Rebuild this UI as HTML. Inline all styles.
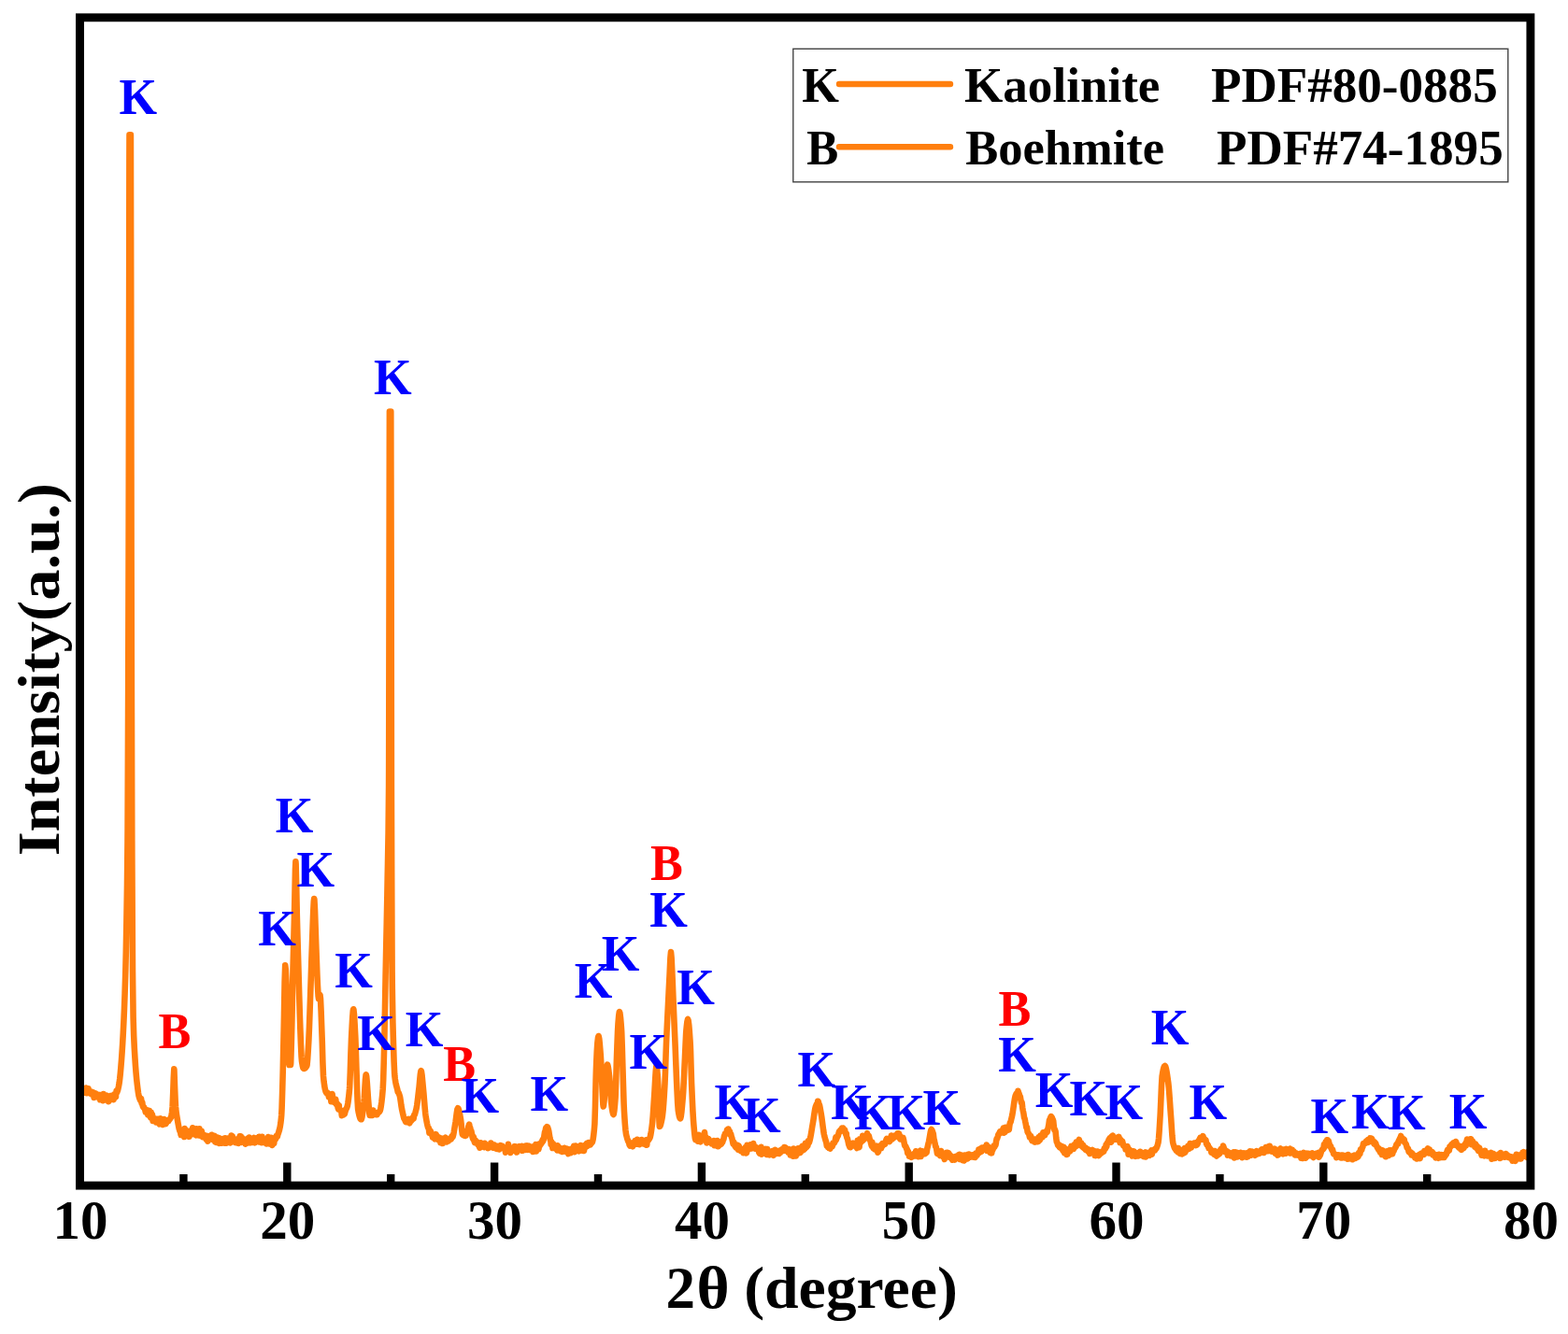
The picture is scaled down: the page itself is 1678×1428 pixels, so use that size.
<!DOCTYPE html>
<html lang="en"><head><meta charset="utf-8"><title>XRD pattern</title>
<style>
html,body{margin:0;padding:0;background:#fff;}
body{width:1678px;height:1428px;overflow:hidden;}
svg{display:block;}
text{font-family:"Liberation Serif","Times New Roman",serif;font-weight:bold;}
.pk{font-size:54.4px;}
.tk{font-size:59px;text-anchor:middle;fill:#000;}
.lg{font-size:53.1px;fill:#000;}
.ax{font-size:63px;fill:#000;}
</style></head><body>
<svg width="1678" height="1428" viewBox="0 0 1678 1428">
<rect x="0" y="0" width="1678" height="1428" fill="#fff"/>
<path d="M85.0 1166.3 L85.6 1167.7 L86.2 1166.2 L86.8 1166.1 L87.4 1164.9 L88.0 1166.6 L88.6 1169.7 L89.2 1168.3 L89.8 1169.8 L90.4 1168.2 L91.0 1168.7 L91.6 1168.4 L92.2 1164.5 L92.8 1170.2 L93.4 1169.6 L94.0 1169.8 L94.6 1165.2 L95.0 1167.8 L95.2 1167.1 L95.8 1168.2 L96.4 1170.1 L97.0 1169.6 L97.6 1171.1 L98.2 1168.7 L98.8 1171.1 L99.4 1171.5 L100.0 1169.4 L100.6 1174.9 L101.2 1172.6 L101.4 1172.3 L101.8 1170.3 L102.4 1170.4 L103.0 1171.5 L103.6 1172.4 L104.2 1174.4 L104.8 1173.9 L105.4 1172.7 L106.0 1171.9 L106.6 1173.1 L107.2 1177.2 L107.8 1173.0 L108.4 1175.5 L108.6 1175.3 L109.0 1171.8 L109.6 1175.3 L110.2 1178.2 L110.8 1171.0 L111.4 1174.8 L112.0 1175.4 L112.6 1173.9 L113.2 1176.9 L113.8 1175.7 L114.4 1172.7 L115.0 1177.8 L115.6 1177.5 L116.0 1176.6 L116.2 1179.2 L116.8 1176.8 L117.4 1176.2 L118.0 1173.1 L118.6 1177.2 L119.2 1174.4 L119.8 1174.7 L120.4 1172.8 L121.0 1174.0 L121.0 1175.3 L121.6 1177.2 L122.2 1171.5 L122.8 1171.6 L123.4 1173.3 L124.0 1174.2 L124.0 1172.3 L124.6 1167.9 L125.2 1169.4 L125.8 1167.7 L126.3 1166.0 L126.4 1165.6 L127.0 1162.9 L127.6 1159.4 L127.8 1158.0 L128.2 1154.9 L128.8 1149.1 L129.4 1142.3 L130.0 1134.7 L130.2 1132.0 L130.6 1126.3 L131.2 1116.7 L131.8 1105.7 L132.4 1093.4 L132.6 1089.0 L133.0 1079.6 L133.6 1063.2 L134.2 1043.6 L134.3 1040.0 L134.8 1018.6 L135.4 986.0 L135.4 986.0 L136.0 947.8 L136.5 900.0 L136.6 886.0 L137.2 737.8 L137.6 600.0 L137.8 512.6 L138.2 300.0 L138.4 173.4 L138.5 144.4 L139.0 144.4 L139.6 144.4 L139.9 144.4 L140.2 300.0 L140.2 300.0 L140.6 600.0 L140.8 705.2 L141.3 900.0 L141.4 925.4 L141.7 986.0 L142.0 1040.0 L142.0 1040.0 L142.6 1089.0 L142.6 1089.0 L143.2 1108.8 L143.8 1121.9 L144.4 1132.0 L144.4 1132.0 L145.0 1141.1 L145.6 1148.8 L146.2 1155.2 L146.5 1158.0 L146.8 1160.6 L147.4 1165.7 L148.0 1170.0 L148.6 1173.3 L148.9 1174.5 L149.2 1175.4 L149.8 1177.0 L150.4 1178.2 L151.0 1175.9 L151.6 1180.8 L152.0 1180.7 L152.2 1179.7 L152.8 1184.1 L153.4 1185.4 L154.0 1185.1 L154.6 1186.4 L155.2 1187.7 L155.8 1190.5 L156.4 1190.0 L157.0 1190.7 L157.3 1190.6 L157.6 1188.3 L158.2 1193.4 L158.8 1193.5 L159.4 1193.9 L160.0 1189.0 L160.6 1192.5 L161.2 1196.3 L161.8 1190.9 L162.4 1195.0 L162.5 1196.2 L163.0 1193.0 L163.6 1199.9 L164.2 1198.1 L164.8 1197.0 L165.4 1198.5 L166.0 1199.7 L166.6 1198.9 L167.2 1201.5 L167.8 1197.9 L168.4 1198.7 L168.8 1200.4 L169.0 1199.8 L169.6 1198.0 L170.2 1202.2 L170.8 1203.4 L171.4 1199.4 L172.0 1197.4 L172.6 1200.3 L173.2 1200.3 L173.8 1200.1 L174.4 1203.9 L175.0 1198.5 L175.1 1201.6 L175.6 1198.0 L176.2 1199.0 L176.8 1202.0 L177.4 1202.9 L178.0 1202.1 L178.6 1200.7 L179.2 1200.0 L179.8 1199.7 L180.4 1199.9 L180.4 1198.9 L181.0 1199.0 L181.6 1198.1 L182.2 1197.4 L182.8 1196.4 L183.0 1196.0 L183.4 1194.7 L184.0 1190.9 L184.6 1185.0 L184.6 1185.0 L185.2 1170.4 L185.4 1165.0 L185.8 1153.5 L186.3 1144.4 L186.4 1145.0 L187.0 1162.3 L187.1 1165.0 L187.6 1177.6 L188.0 1185.0 L188.2 1187.2 L188.8 1192.1 L189.4 1195.7 L189.8 1198.0 L190.0 1199.2 L190.6 1202.7 L191.2 1205.8 L191.8 1208.9 L191.8 1208.0 L192.4 1210.7 L193.0 1211.6 L193.6 1214.8 L194.0 1212.2 L194.2 1211.5 L194.8 1211.9 L195.4 1212.7 L196.0 1214.9 L196.6 1212.2 L197.0 1213.3 L197.2 1217.0 L197.8 1208.1 L198.4 1210.3 L199.0 1213.1 L199.6 1213.2 L200.2 1212.7 L200.8 1211.1 L201.4 1213.4 L201.4 1212.2 L202.0 1210.9 L202.6 1216.8 L203.2 1212.8 L203.8 1210.8 L204.4 1211.8 L205.0 1211.5 L205.6 1211.9 L206.2 1207.2 L206.8 1210.9 L207.4 1214.2 L208.0 1209.4 L208.6 1211.9 L208.6 1212.6 L209.2 1213.9 L209.8 1215.3 L210.4 1208.4 L211.0 1211.5 L211.6 1211.7 L212.2 1214.0 L212.8 1215.2 L213.4 1208.2 L214.0 1215.6 L214.6 1210.3 L215.2 1215.2 L215.8 1210.7 L216.4 1214.7 L217.0 1217.2 L217.6 1214.5 L218.2 1215.5 L218.8 1217.1 L219.4 1216.0 L220.0 1215.7 L220.6 1219.5 L221.2 1218.7 L221.8 1216.0 L222.4 1221.7 L222.9 1216.2 L223.0 1219.0 L223.6 1216.6 L224.2 1217.7 L224.8 1219.1 L225.4 1218.3 L226.0 1219.4 L226.6 1214.8 L227.2 1215.1 L227.8 1219.9 L228.4 1216.7 L229.0 1216.7 L229.6 1215.9 L230.2 1222.1 L230.8 1221.1 L231.4 1222.9 L232.0 1217.8 L232.6 1220.0 L233.2 1217.6 L233.8 1221.9 L234.4 1223.8 L235.0 1218.4 L235.6 1223.8 L236.2 1222.6 L236.8 1220.1 L237.0 1219.2 L237.4 1223.6 L238.0 1220.3 L238.6 1219.2 L239.2 1221.4 L239.8 1221.4 L240.4 1223.7 L241.0 1218.2 L241.6 1222.9 L242.2 1223.7 L242.8 1223.6 L243.4 1220.0 L244.0 1218.8 L244.6 1222.6 L245.2 1220.6 L245.8 1220.6 L246.4 1223.5 L247.0 1219.8 L247.6 1215.5 L248.2 1219.5 L248.8 1216.3 L249.4 1222.1 L250.0 1221.0 L250.6 1219.0 L251.2 1220.3 L251.4 1220.8 L251.8 1220.5 L252.4 1223.2 L253.0 1220.2 L253.6 1222.6 L254.2 1223.6 L254.8 1223.9 L255.4 1218.9 L256.0 1222.3 L256.6 1216.4 L257.2 1218.1 L257.8 1216.3 L258.4 1222.9 L259.0 1217.9 L259.6 1220.6 L260.2 1220.3 L260.8 1220.7 L261.4 1219.5 L262.0 1221.3 L262.6 1224.7 L263.2 1221.0 L263.8 1222.1 L264.4 1223.1 L265.0 1220.5 L265.6 1218.3 L265.7 1220.6 L266.2 1223.3 L266.8 1217.5 L267.4 1219.8 L268.0 1223.3 L268.6 1222.8 L269.2 1221.2 L269.8 1222.9 L270.4 1221.6 L271.0 1218.7 L271.6 1217.9 L272.2 1219.9 L272.8 1223.3 L273.4 1220.1 L274.0 1219.4 L274.6 1219.7 L275.2 1218.1 L275.8 1221.2 L276.4 1218.9 L277.0 1222.3 L277.6 1216.7 L278.2 1222.2 L278.8 1220.1 L279.4 1217.3 L280.0 1223.1 L280.0 1221.3 L280.6 1216.7 L281.2 1219.6 L281.8 1222.1 L282.4 1220.5 L283.0 1223.2 L283.6 1223.1 L284.2 1222.9 L284.8 1222.2 L285.4 1224.4 L286.0 1222.9 L286.6 1222.5 L287.2 1217.0 L287.8 1223.4 L288.4 1224.3 L289.0 1220.9 L289.6 1220.5 L290.0 1222.8 L290.2 1217.7 L290.8 1222.4 L291.4 1225.9 L292.0 1218.9 L292.6 1221.9 L293.2 1224.0 L293.8 1219.2 L294.4 1219.7 L295.0 1219.5 L295.6 1216.1 L295.6 1217.5 L296.2 1217.1 L296.8 1216.9 L297.4 1214.2 L298.0 1212.7 L298.6 1210.8 L299.1 1209.0 L299.2 1208.6 L299.8 1205.8 L300.4 1201.8 L301.0 1196.3 L301.2 1194.0 L301.6 1186.2 L302.2 1166.8 L302.6 1152.0 L302.8 1144.0 L303.4 1115.4 L303.8 1096.0 L304.0 1085.8 L304.6 1051.3 L305.2 1033.3 L305.2 1033.3 L305.8 1037.9 L306.4 1049.5 L307.0 1064.6 L307.4 1075.0 L307.6 1080.8 L308.2 1103.1 L308.7 1120.0 L308.8 1122.8 L309.4 1138.4 L309.6 1140.0 L310.0 1140.0 L310.6 1140.0 L311.0 1140.0 L311.2 1138.0 L311.8 1117.7 L312.0 1110.0 L312.4 1093.3 L313.0 1063.7 L313.5 1040.0 L313.6 1035.7 L314.2 1011.5 L314.8 988.0 L315.0 980.0 L315.4 960.2 L316.0 930.3 L316.4 922.2 L316.6 924.5 L317.2 949.8 L317.8 980.0 L317.8 980.0 L318.4 1002.0 L319.0 1022.9 L319.5 1040.0 L319.6 1043.5 L320.2 1064.8 L320.8 1085.4 L321.3 1100.0 L321.4 1102.6 L322.0 1118.4 L322.6 1131.2 L323.0 1136.0 L323.2 1137.3 L323.8 1140.8 L324.4 1143.1 L325.0 1144.0 L325.0 1144.0 L325.6 1143.9 L326.2 1143.6 L326.8 1143.1 L327.4 1142.4 L328.0 1141.5 L328.3 1141.0 L328.6 1139.7 L329.2 1133.4 L329.8 1123.8 L330.3 1115.0 L330.4 1113.1 L331.0 1098.9 L331.6 1081.6 L332.0 1070.0 L332.2 1064.2 L332.8 1045.7 L333.4 1026.9 L334.0 1010.0 L334.0 1010.0 L334.6 993.2 L335.2 976.5 L335.8 964.7 L336.2 962.0 L336.4 962.9 L337.0 974.1 L337.6 992.2 L338.2 1010.0 L338.2 1010.0 L338.8 1026.6 L339.4 1043.2 L339.8 1052.0 L340.0 1055.8 L340.6 1066.2 L341.0 1069.0 L341.2 1068.8 L341.8 1066.8 L342.4 1065.1 L342.5 1065.0 L343.0 1069.1 L343.6 1082.2 L344.2 1099.1 L344.6 1110.0 L344.8 1115.8 L345.4 1137.1 L346.0 1152.0 L346.0 1152.0 L346.6 1157.8 L347.2 1162.4 L347.8 1165.7 L348.4 1167.9 L348.8 1168.9 L349.0 1169.3 L349.6 1170.2 L350.2 1170.7 L350.8 1170.1 L351.4 1171.6 L352.0 1174.5 L352.6 1173.3 L353.2 1171.7 L353.8 1172.2 L354.4 1179.2 L354.4 1175.2 L355.0 1176.4 L355.6 1171.0 L356.2 1177.5 L356.8 1177.8 L357.4 1179.9 L358.0 1178.6 L358.6 1178.6 L358.6 1178.9 L359.2 1176.6 L359.8 1182.0 L360.4 1182.0 L361.0 1181.5 L361.6 1185.6 L362.2 1187.4 L362.8 1183.6 L362.8 1185.4 L363.4 1187.2 L364.0 1188.3 L364.6 1188.7 L365.2 1188.9 L365.8 1194.2 L366.3 1191.8 L366.4 1189.5 L367.0 1189.2 L367.6 1193.4 L368.2 1191.8 L368.8 1192.4 L369.4 1190.1 L370.0 1188.0 L370.6 1186.9 L371.2 1185.7 L371.2 1185.7 L371.8 1183.8 L372.4 1180.5 L373.0 1176.0 L373.6 1170.4 L374.0 1166.0 L374.2 1163.0 L374.8 1147.8 L375.4 1128.5 L376.0 1112.0 L376.1 1110.0 L376.6 1100.4 L377.2 1089.5 L377.8 1082.0 L378.2 1080.3 L378.4 1080.7 L379.0 1086.2 L379.6 1096.2 L380.2 1108.0 L380.3 1110.0 L380.8 1123.2 L381.4 1143.0 L381.7 1152.0 L382.0 1160.9 L382.6 1178.6 L383.1 1187.0 L383.2 1187.6 L383.8 1191.1 L384.4 1193.8 L385.0 1195.9 L385.6 1197.4 L386.2 1198.2 L386.6 1198.3 L386.8 1198.1 L387.4 1196.1 L388.0 1192.2 L388.6 1187.2 L389.2 1181.8 L389.4 1180.0 L389.8 1175.2 L390.4 1165.3 L391.0 1155.7 L391.6 1150.5 L391.7 1150.4 L392.2 1152.4 L392.8 1159.0 L393.4 1167.7 L394.0 1176.4 L394.3 1180.0 L394.6 1183.6 L395.2 1191.1 L395.7 1194.0 L395.8 1194.0 L396.4 1194.0 L397.0 1193.9 L397.6 1193.7 L398.2 1191.7 L398.8 1193.9 L399.4 1188.6 L400.0 1191.3 L400.6 1192.6 L400.6 1193.0 L401.2 1191.0 L401.8 1192.1 L402.4 1193.1 L403.0 1192.7 L403.6 1193.0 L404.2 1191.7 L404.8 1190.6 L405.4 1190.6 L406.0 1190.1 L406.2 1189.9 L406.6 1189.2 L407.2 1187.2 L407.8 1183.9 L408.4 1179.4 L409.0 1173.9 L409.6 1167.2 L409.7 1166.0 L410.2 1155.6 L410.8 1134.7 L411.4 1110.0 L411.4 1110.0 L412.0 1079.6 L412.6 1045.3 L412.7 1040.0 L413.2 1015.3 L413.8 987.1 L414.4 957.0 L414.7 940.0 L415.0 924.3 L415.6 891.4 L416.1 840.0 L416.2 813.5 L416.6 600.0 L416.8 486.2 L416.9 440.6 L417.4 440.6 L418.0 440.6 L418.3 440.6 L418.6 600.0 L418.6 600.0 L418.9 840.0 L419.2 940.0 L419.2 940.0 L419.6 1040.0 L419.8 1058.8 L420.4 1094.7 L420.8 1110.0 L421.0 1117.3 L421.6 1136.6 L422.2 1149.6 L422.4 1152.0 L422.8 1155.2 L423.4 1158.9 L424.0 1161.7 L424.6 1163.9 L425.2 1166.0 L425.2 1166.0 L425.8 1169.0 L426.4 1169.4 L427.0 1170.8 L427.6 1172.5 L428.0 1174.0 L428.2 1174.9 L428.8 1178.9 L429.4 1183.4 L430.0 1187.0 L430.0 1187.0 L430.6 1189.8 L431.2 1192.5 L431.8 1195.1 L432.4 1197.4 L433.0 1198.0 L433.6 1199.5 L434.2 1201.0 L434.3 1201.0 L434.8 1201.2 L435.4 1200.9 L436.0 1201.1 L436.6 1200.4 L437.2 1197.9 L437.8 1201.2 L438.4 1202.2 L439.0 1200.6 L439.6 1199.1 L440.2 1199.7 L440.8 1197.2 L441.3 1197.5 L441.4 1198.3 L442.0 1196.2 L442.6 1197.5 L443.2 1193.4 L443.8 1193.2 L444.4 1191.2 L445.0 1189.0 L445.5 1187.0 L445.6 1186.6 L446.2 1183.2 L446.8 1178.7 L447.4 1173.6 L448.0 1168.5 L448.3 1166.0 L448.6 1163.3 L449.2 1156.6 L449.8 1150.3 L450.4 1146.5 L450.6 1146.2 L451.0 1147.1 L451.6 1151.3 L452.2 1157.5 L452.8 1164.0 L453.0 1166.0 L453.4 1170.2 L454.0 1177.7 L454.6 1185.2 L455.2 1191.6 L455.5 1194.0 L455.8 1196.0 L456.4 1199.5 L457.0 1202.6 L457.6 1205.3 L458.2 1207.4 L458.6 1207.5 L458.8 1207.5 L459.4 1212.6 L460.0 1210.9 L460.6 1210.5 L461.2 1212.1 L461.5 1213.7 L461.8 1214.5 L462.4 1214.5 L463.0 1217.7 L463.6 1216.5 L464.2 1215.3 L464.8 1216.8 L465.4 1219.3 L465.7 1216.6 L466.0 1218.3 L466.6 1214.2 L467.2 1216.4 L467.8 1218.5 L468.4 1216.7 L469.0 1219.8 L469.6 1219.1 L470.2 1220.0 L470.8 1217.9 L471.4 1223.2 L472.0 1221.4 L472.6 1218.7 L473.2 1219.5 L473.8 1224.0 L474.4 1218.9 L475.0 1221.6 L475.6 1221.9 L476.2 1220.0 L476.8 1217.6 L477.2 1220.1 L477.4 1220.7 L478.0 1222.3 L478.6 1221.5 L479.2 1219.9 L479.8 1221.4 L480.4 1220.6 L481.0 1219.7 L481.6 1219.1 L482.2 1218.4 L482.8 1219.4 L483.4 1216.4 L484.0 1217.5 L484.3 1217.3 L484.6 1216.8 L485.2 1214.7 L485.8 1211.5 L486.4 1207.8 L487.0 1204.1 L487.2 1203.0 L487.6 1200.5 L488.2 1195.9 L488.8 1191.2 L489.4 1187.6 L490.0 1186.2 L490.0 1186.2 L490.6 1186.9 L491.2 1188.8 L491.8 1191.5 L492.4 1194.7 L493.0 1198.0 L493.0 1198.0 L493.6 1203.1 L494.2 1209.5 L494.8 1214.0 L495.0 1214.5 L495.4 1214.8 L496.0 1215.2 L496.6 1215.6 L497.2 1214.9 L497.8 1215.9 L498.4 1213.9 L498.6 1215.8 L499.0 1212.7 L499.6 1212.8 L500.2 1211.9 L500.8 1209.0 L501.4 1205.6 L502.0 1204.0 L502.2 1203.6 L502.6 1207.3 L503.2 1207.3 L503.8 1210.9 L504.4 1210.9 L505.0 1214.2 L505.0 1213.7 L505.6 1217.4 L506.2 1219.4 L506.8 1217.0 L507.4 1221.1 L508.0 1223.2 L508.6 1220.5 L508.6 1222.2 L509.2 1221.9 L509.8 1222.9 L510.4 1222.2 L511.0 1224.6 L511.6 1225.4 L512.2 1226.4 L512.8 1226.8 L513.4 1228.7 L514.0 1228.3 L514.6 1223.4 L515.2 1225.2 L515.8 1224.3 L516.4 1224.4 L517.0 1226.6 L517.6 1226.9 L518.2 1228.0 L518.8 1223.8 L519.4 1224.7 L520.0 1227.3 L520.0 1227.2 L520.6 1226.8 L521.2 1227.4 L521.8 1226.0 L522.4 1229.1 L523.0 1228.5 L523.6 1227.6 L524.2 1226.5 L524.8 1227.6 L525.4 1223.5 L526.0 1226.1 L526.6 1228.2 L527.2 1225.2 L527.8 1228.7 L528.4 1228.6 L529.0 1225.6 L529.6 1227.9 L530.2 1227.9 L530.8 1229.5 L531.4 1229.8 L532.0 1228.6 L532.6 1226.9 L533.2 1228.4 L533.8 1228.6 L534.4 1230.3 L534.4 1229.0 L535.0 1227.4 L535.6 1226.1 L536.2 1228.2 L536.8 1227.5 L537.4 1226.7 L538.0 1228.8 L538.6 1228.1 L539.2 1229.3 L539.8 1230.2 L540.4 1228.4 L541.0 1233.7 L541.6 1228.6 L542.2 1231.6 L542.8 1229.6 L543.4 1231.6 L544.0 1224.9 L544.6 1227.9 L545.2 1229.9 L545.8 1230.7 L546.4 1234.0 L547.0 1230.1 L547.6 1232.1 L548.2 1231.1 L548.7 1230.1 L548.8 1230.5 L549.4 1229.2 L550.0 1230.5 L550.6 1227.2 L551.2 1231.8 L551.8 1227.3 L552.4 1229.8 L553.0 1233.5 L553.6 1228.6 L554.2 1229.0 L554.8 1231.3 L555.4 1228.9 L556.0 1227.1 L556.6 1229.2 L557.2 1229.7 L557.8 1229.9 L558.4 1226.8 L559.0 1231.8 L559.6 1231.6 L560.2 1228.2 L560.8 1228.6 L561.4 1227.2 L562.0 1230.9 L562.6 1226.6 L563.0 1228.4 L563.2 1227.0 L563.8 1226.6 L564.4 1229.5 L565.0 1230.8 L565.6 1228.1 L566.2 1226.8 L566.8 1229.9 L567.4 1228.2 L568.0 1229.0 L568.6 1231.5 L569.2 1230.7 L569.8 1227.5 L570.4 1233.0 L571.0 1228.6 L571.6 1230.3 L572.2 1227.4 L572.8 1228.7 L573.4 1225.2 L574.0 1232.4 L574.4 1229.6 L574.6 1226.3 L575.2 1225.6 L575.8 1225.1 L576.4 1230.3 L577.0 1226.7 L577.6 1226.6 L578.2 1225.5 L578.8 1224.9 L579.4 1222.6 L580.0 1223.2 L580.6 1220.1 L580.9 1221.6 L581.2 1221.4 L581.8 1219.5 L582.4 1215.8 L583.0 1211.9 L583.6 1210.6 L584.2 1207.3 L584.8 1208.7 L585.2 1206.5 L585.4 1206.1 L586.0 1206.6 L586.6 1208.3 L587.2 1210.6 L587.8 1214.3 L588.4 1218.0 L589.0 1220.8 L589.5 1221.8 L589.6 1224.8 L590.2 1222.3 L590.8 1224.7 L591.4 1229.0 L592.0 1224.3 L592.6 1226.9 L593.0 1228.1 L593.2 1228.3 L593.8 1229.0 L594.4 1228.5 L595.0 1229.9 L595.6 1229.5 L596.2 1231.3 L596.8 1226.2 L597.4 1228.4 L598.0 1230.4 L598.6 1228.6 L599.2 1228.7 L599.8 1232.2 L600.4 1229.8 L601.0 1232.5 L601.6 1232.9 L602.2 1232.1 L602.8 1232.5 L603.4 1231.4 L604.0 1228.8 L604.5 1231.6 L604.6 1232.5 L605.2 1230.5 L605.8 1231.4 L606.4 1233.0 L607.0 1229.7 L607.6 1232.7 L608.2 1235.1 L608.8 1230.2 L609.4 1231.6 L610.0 1230.9 L610.6 1234.2 L611.2 1231.6 L611.8 1232.7 L612.4 1229.4 L613.0 1230.7 L613.6 1230.6 L614.2 1226.9 L614.8 1233.2 L615.4 1232.0 L616.0 1226.6 L616.6 1231.5 L617.2 1229.6 L617.8 1230.6 L618.4 1230.3 L618.8 1228.6 L619.0 1229.0 L619.6 1232.3 L620.2 1228.0 L620.8 1226.9 L621.4 1226.1 L622.0 1226.2 L622.6 1229.1 L623.2 1231.6 L623.8 1228.8 L624.4 1228.2 L625.0 1231.9 L625.6 1226.2 L626.2 1225.7 L626.8 1227.8 L627.2 1226.9 L627.4 1224.5 L628.0 1223.9 L628.6 1226.7 L629.2 1226.4 L629.8 1223.0 L630.4 1225.0 L631.0 1224.0 L631.6 1225.4 L632.2 1224.2 L632.8 1223.8 L633.4 1223.2 L633.6 1223.0 L634.0 1222.2 L634.6 1219.7 L635.2 1215.6 L635.8 1210.0 L636.4 1203.0 L636.4 1203.0 L637.0 1183.9 L637.6 1156.2 L637.9 1145.8 L638.2 1138.0 L638.8 1124.6 L639.3 1117.2 L639.4 1116.2 L640.0 1110.9 L640.5 1109.0 L640.6 1109.1 L641.2 1111.7 L641.8 1117.4 L642.4 1124.8 L642.9 1131.5 L643.0 1132.9 L643.6 1144.8 L644.2 1158.1 L644.3 1160.0 L644.8 1171.0 L645.4 1182.5 L645.7 1184.4 L646.0 1183.5 L646.6 1177.7 L647.2 1169.2 L647.8 1161.1 L647.9 1160.0 L648.4 1154.1 L649.0 1146.6 L649.6 1141.0 L650.0 1139.7 L650.2 1139.9 L650.8 1142.1 L651.4 1146.3 L652.0 1151.3 L652.2 1153.0 L652.6 1157.5 L653.2 1166.7 L653.8 1176.1 L654.3 1181.6 L654.4 1182.4 L655.0 1186.8 L655.6 1190.5 L656.2 1192.7 L656.5 1193.0 L656.8 1192.5 L657.4 1188.8 L658.0 1182.5 L658.6 1174.4 L658.6 1174.4 L659.2 1158.7 L659.8 1137.5 L660.0 1131.5 L660.4 1120.5 L661.0 1105.0 L661.5 1095.8 L661.6 1094.5 L662.2 1087.2 L662.8 1083.3 L662.9 1083.2 L663.4 1084.5 L664.0 1089.1 L664.6 1096.0 L665.1 1102.9 L665.2 1104.6 L665.8 1121.5 L666.4 1142.6 L666.5 1145.8 L667.0 1162.6 L667.6 1181.9 L667.9 1188.7 L668.2 1193.8 L668.8 1202.7 L669.4 1209.6 L670.0 1214.0 L670.1 1214.5 L670.6 1216.5 L671.2 1218.7 L671.8 1220.6 L672.4 1222.1 L673.0 1222.9 L673.6 1225.6 L674.2 1226.4 L674.3 1224.3 L674.8 1225.7 L675.4 1223.4 L676.0 1224.6 L676.6 1225.9 L677.2 1227.3 L677.8 1223.5 L678.4 1224.1 L679.0 1224.5 L679.6 1221.1 L680.2 1224.0 L680.8 1222.6 L681.4 1224.5 L681.5 1223.1 L682.0 1219.8 L682.6 1223.7 L683.2 1224.1 L683.8 1222.4 L684.4 1225.2 L685.0 1222.8 L685.6 1222.1 L686.2 1224.1 L686.8 1220.0 L687.4 1221.6 L688.0 1222.8 L688.6 1224.4 L689.2 1222.2 L689.8 1223.0 L690.1 1221.9 L690.4 1222.8 L691.0 1225.3 L691.6 1220.4 L692.2 1225.8 L692.8 1220.2 L693.4 1220.6 L694.0 1220.3 L694.6 1219.4 L695.1 1218.8 L695.2 1218.6 L695.8 1217.0 L696.4 1214.2 L697.0 1210.5 L697.6 1206.1 L698.0 1203.0 L698.2 1201.2 L698.8 1193.9 L699.4 1184.9 L700.0 1175.8 L700.1 1174.4 L700.6 1166.3 L701.2 1155.3 L701.8 1145.9 L702.4 1141.1 L702.5 1141.0 L703.0 1143.0 L703.6 1149.5 L704.2 1158.7 L704.4 1162.0 L704.8 1174.1 L705.4 1198.6 L705.8 1205.9 L706.0 1205.8 L706.6 1204.9 L707.2 1203.1 L707.8 1200.5 L708.4 1197.5 L708.7 1195.9 L709.0 1194.0 L709.6 1188.5 L710.2 1181.1 L710.8 1172.1 L711.4 1161.8 L711.5 1160.0 L712.0 1147.5 L712.6 1128.4 L713.0 1117.0 L713.2 1112.2 L713.8 1099.1 L714.4 1087.0 L715.0 1075.0 L715.0 1075.0 L715.6 1062.7 L716.2 1050.7 L716.5 1045.0 L716.8 1038.7 L717.4 1025.5 L718.0 1019.1 L718.0 1019.1 L718.6 1025.3 L719.2 1038.4 L719.5 1045.0 L719.8 1051.8 L720.4 1067.4 L720.7 1075.0 L721.0 1082.1 L721.6 1096.0 L722.2 1109.8 L722.5 1117.0 L722.8 1124.6 L723.4 1140.5 L724.0 1155.6 L724.2 1160.0 L724.6 1168.7 L725.2 1181.0 L725.8 1188.7 L725.8 1188.7 L726.4 1192.4 L727.0 1195.2 L727.6 1196.9 L728.0 1197.3 L728.2 1197.1 L728.8 1194.7 L729.4 1190.0 L730.0 1183.7 L730.6 1176.8 L730.8 1174.4 L731.2 1168.7 L731.8 1157.3 L732.4 1144.3 L733.0 1131.5 L733.0 1131.5 L733.6 1117.9 L734.2 1105.5 L734.4 1102.9 L734.8 1098.8 L735.4 1093.7 L736.0 1091.2 L736.1 1091.1 L736.6 1092.4 L737.2 1096.9 L737.8 1103.9 L738.4 1112.5 L738.7 1117.2 L739.0 1124.0 L739.6 1144.3 L740.1 1160.0 L740.2 1162.4 L740.8 1176.4 L741.4 1189.0 L742.0 1199.1 L742.3 1203.0 L742.6 1206.5 L743.2 1213.2 L743.8 1218.2 L744.4 1220.2 L744.4 1220.2 L745.0 1220.2 L745.6 1220.0 L746.2 1219.9 L746.8 1221.6 L747.4 1217.0 L748.0 1215.0 L748.6 1220.0 L748.7 1219.3 L749.2 1219.7 L749.8 1222.3 L750.4 1217.9 L751.0 1217.5 L751.6 1218.3 L752.2 1216.8 L752.8 1219.1 L753.0 1215.2 L753.4 1215.3 L754.0 1212.1 L754.6 1218.6 L755.2 1217.0 L755.8 1220.4 L756.4 1223.5 L757.0 1220.0 L757.3 1220.1 L757.6 1219.4 L758.2 1219.2 L758.8 1219.9 L759.4 1222.7 L760.0 1221.9 L760.6 1222.2 L761.2 1222.0 L761.8 1224.4 L762.4 1223.8 L763.0 1222.7 L763.0 1223.4 L763.6 1222.9 L764.2 1221.1 L764.8 1226.3 L765.4 1224.5 L766.0 1221.9 L766.6 1226.0 L767.2 1224.7 L767.8 1221.1 L768.4 1227.3 L769.0 1225.0 L769.6 1226.1 L770.2 1224.7 L770.8 1224.3 L771.4 1222.4 L771.6 1224.9 L772.0 1224.4 L772.6 1223.1 L773.2 1222.6 L773.8 1220.5 L774.4 1219.4 L775.0 1216.2 L775.6 1215.1 L775.9 1213.6 L776.2 1213.3 L776.8 1213.5 L777.4 1213.2 L778.0 1209.7 L778.6 1209.1 L779.2 1210.9 L779.5 1208.6 L779.8 1209.8 L780.4 1212.0 L781.0 1211.3 L781.6 1214.7 L782.2 1214.1 L782.8 1217.1 L783.0 1217.3 L783.4 1218.5 L784.0 1221.5 L784.6 1224.6 L785.2 1222.4 L785.8 1224.0 L786.4 1226.8 L787.0 1225.6 L787.3 1227.5 L787.6 1228.3 L788.2 1227.6 L788.8 1229.1 L789.4 1225.8 L790.0 1230.6 L790.6 1226.5 L791.2 1228.5 L791.8 1229.0 L792.4 1229.6 L793.0 1232.2 L793.6 1230.9 L794.2 1230.1 L794.8 1232.0 L795.4 1234.0 L795.9 1231.0 L796.0 1231.7 L796.6 1233.3 L797.2 1231.3 L797.8 1228.1 L798.4 1234.5 L799.0 1234.1 L799.6 1225.7 L800.2 1229.1 L800.8 1229.6 L801.4 1230.2 L802.0 1229.3 L802.6 1227.2 L803.2 1225.5 L803.8 1227.6 L804.4 1229.3 L804.5 1226.7 L805.0 1225.4 L805.6 1227.4 L806.2 1224.0 L806.8 1227.5 L807.4 1227.5 L808.0 1229.6 L808.6 1227.8 L809.2 1227.9 L809.8 1229.3 L810.4 1230.3 L811.0 1229.4 L811.6 1231.0 L811.7 1231.4 L812.2 1233.4 L812.8 1234.6 L813.4 1230.1 L814.0 1231.0 L814.6 1227.8 L815.2 1235.8 L815.8 1231.0 L816.4 1232.5 L817.0 1233.8 L817.6 1230.4 L818.2 1234.0 L818.8 1233.2 L819.4 1229.9 L820.0 1234.1 L820.6 1235.9 L821.2 1230.1 L821.8 1235.3 L822.4 1234.2 L823.0 1234.7 L823.1 1234.1 L823.6 1236.3 L824.2 1233.4 L824.8 1235.4 L825.4 1232.9 L826.0 1235.1 L826.6 1232.1 L827.2 1233.3 L827.8 1236.8 L828.4 1234.3 L829.0 1233.0 L829.6 1231.0 L830.2 1231.6 L830.8 1233.4 L831.4 1234.7 L832.0 1233.6 L832.6 1233.7 L833.2 1232.5 L833.8 1235.0 L834.4 1231.6 L834.5 1232.0 L835.0 1233.9 L835.6 1232.1 L836.2 1231.1 L836.8 1230.3 L837.4 1230.5 L838.0 1231.9 L838.6 1231.2 L839.2 1228.0 L839.8 1231.0 L840.0 1230.3 L840.4 1228.3 L841.0 1231.8 L841.6 1229.9 L842.2 1230.0 L842.8 1232.4 L843.4 1233.6 L844.0 1230.1 L844.6 1232.6 L845.2 1230.4 L845.8 1236.5 L846.4 1231.7 L847.0 1235.2 L847.6 1232.0 L848.2 1234.9 L848.8 1237.7 L849.4 1229.5 L850.0 1232.9 L850.0 1234.0 L850.6 1233.5 L851.2 1232.3 L851.8 1237.5 L852.4 1233.5 L853.0 1230.0 L853.6 1234.5 L854.2 1229.4 L854.8 1234.5 L855.4 1230.9 L856.0 1232.0 L856.6 1233.8 L857.2 1231.2 L857.8 1228.0 L858.4 1227.1 L858.6 1230.9 L859.0 1231.4 L859.6 1228.1 L860.2 1230.8 L860.8 1229.7 L861.4 1229.6 L862.0 1223.7 L862.6 1226.9 L863.2 1227.9 L863.8 1226.9 L864.4 1226.4 L865.0 1221.4 L865.6 1223.6 L865.8 1223.2 L866.2 1222.1 L866.8 1219.9 L867.4 1217.0 L868.0 1213.7 L868.6 1210.0 L869.2 1206.3 L869.8 1202.7 L870.0 1201.6 L870.4 1199.2 L871.0 1195.1 L871.6 1190.9 L872.2 1187.2 L872.8 1184.7 L872.9 1184.4 L873.4 1183.2 L874.0 1181.8 L874.6 1183.6 L875.2 1178.7 L875.8 1179.3 L875.8 1179.7 L876.4 1181.7 L877.0 1182.9 L877.6 1186.0 L878.2 1189.4 L878.6 1191.6 L878.8 1192.7 L879.4 1196.6 L880.0 1201.2 L880.6 1205.9 L881.2 1210.4 L881.8 1214.1 L882.2 1215.9 L882.4 1216.7 L883.0 1218.9 L883.6 1221.1 L884.2 1222.6 L884.8 1226.5 L885.4 1225.5 L886.0 1228.0 L886.6 1227.7 L887.2 1228.9 L887.2 1228.4 L887.8 1226.5 L888.4 1229.7 L889.0 1228.3 L889.6 1226.5 L890.2 1226.8 L890.8 1227.0 L891.4 1223.6 L892.0 1223.8 L892.6 1223.7 L893.2 1222.7 L893.8 1220.7 L894.4 1217.4 L894.4 1220.7 L895.0 1219.7 L895.6 1218.1 L896.2 1216.4 L896.8 1215.8 L897.4 1213.6 L898.0 1211.5 L898.6 1210.8 L899.2 1210.0 L899.8 1209.3 L900.0 1209.5 L900.4 1210.6 L901.0 1207.7 L901.6 1209.9 L902.2 1207.5 L902.8 1209.2 L903.0 1209.2 L903.4 1209.2 L904.0 1209.2 L904.6 1212.1 L905.2 1214.3 L905.8 1213.6 L905.8 1215.7 L906.4 1217.9 L907.0 1219.1 L907.6 1221.9 L908.2 1224.8 L908.8 1226.5 L909.4 1227.9 L910.0 1228.1 L910.1 1227.2 L910.6 1227.3 L911.2 1226.9 L911.8 1226.7 L912.4 1226.7 L913.0 1223.7 L913.6 1226.1 L914.2 1226.5 L914.8 1224.5 L915.4 1226.0 L916.0 1226.8 L916.6 1225.2 L917.2 1229.1 L917.8 1220.9 L918.4 1224.3 L918.7 1223.5 L919.0 1226.1 L919.6 1228.0 L920.2 1219.2 L920.8 1222.9 L921.4 1222.9 L922.0 1220.7 L922.6 1221.6 L923.2 1215.8 L923.8 1220.8 L924.4 1219.4 L924.4 1218.7 L925.0 1217.1 L925.6 1218.9 L926.2 1216.3 L926.8 1217.1 L927.4 1215.6 L928.0 1213.2 L928.6 1215.9 L928.7 1216.0 L929.2 1217.1 L929.8 1215.8 L930.4 1218.2 L931.0 1220.5 L931.6 1221.5 L932.2 1224.5 L932.8 1226.7 L933.0 1224.1 L933.4 1222.7 L934.0 1227.3 L934.6 1229.3 L935.2 1229.5 L935.8 1230.2 L936.4 1229.0 L937.0 1229.2 L937.3 1230.5 L937.6 1229.0 L938.2 1226.7 L938.8 1228.0 L939.4 1233.6 L940.0 1232.8 L940.6 1227.5 L941.2 1227.0 L941.8 1228.3 L942.4 1226.0 L943.0 1229.3 L943.6 1226.3 L944.2 1224.0 L944.4 1226.6 L944.8 1224.6 L945.4 1225.7 L946.0 1224.9 L946.6 1223.9 L947.2 1224.7 L947.8 1222.5 L948.4 1220.0 L949.0 1218.9 L949.6 1220.2 L950.2 1220.8 L950.8 1221.7 L951.4 1221.4 L952.0 1221.9 L952.6 1220.7 L953.0 1219.8 L953.2 1218.7 L953.8 1215.6 L954.4 1218.6 L955.0 1219.2 L955.6 1218.6 L956.2 1216.8 L956.8 1216.1 L957.4 1217.5 L958.0 1215.3 L958.6 1216.2 L959.2 1215.7 L959.8 1214.8 L960.1 1215.1 L960.4 1213.4 L961.0 1213.9 L961.6 1213.3 L962.2 1213.6 L962.8 1218.4 L963.4 1219.3 L964.0 1216.6 L964.6 1217.9 L965.2 1219.4 L965.8 1219.6 L965.9 1219.2 L966.4 1217.9 L967.0 1220.1 L967.6 1223.3 L968.2 1226.5 L968.8 1226.7 L969.4 1227.3 L970.0 1229.4 L970.2 1229.9 L970.6 1229.8 L971.2 1234.0 L971.8 1232.3 L972.4 1234.1 L973.0 1237.7 L973.6 1237.0 L974.2 1236.3 L974.5 1235.7 L974.8 1236.4 L975.4 1238.8 L976.0 1236.9 L976.6 1238.0 L977.2 1235.7 L977.8 1236.4 L978.4 1234.9 L979.0 1235.9 L979.6 1237.4 L980.2 1232.2 L980.8 1234.6 L981.4 1235.1 L982.0 1233.5 L982.6 1233.9 L983.0 1234.9 L983.2 1238.2 L983.8 1235.7 L984.4 1235.1 L985.0 1231.7 L985.6 1238.0 L986.2 1234.6 L986.8 1234.4 L987.4 1232.5 L988.0 1234.4 L988.6 1233.1 L989.2 1234.6 L989.8 1235.1 L990.2 1234.5 L990.4 1234.8 L991.0 1232.5 L991.6 1233.7 L992.2 1229.7 L992.8 1227.2 L993.4 1224.6 L993.8 1223.0 L994.0 1222.2 L994.6 1218.9 L995.2 1215.2 L995.8 1211.8 L996.4 1209.5 L996.8 1209.0 L997.0 1209.1 L997.6 1210.4 L998.2 1212.1 L998.8 1213.8 L999.4 1219.1 L1000.0 1221.2 L1000.2 1222.6 L1000.6 1224.1 L1001.2 1227.3 L1001.8 1227.8 L1002.4 1231.3 L1003.0 1235.1 L1003.6 1235.2 L1003.8 1234.4 L1004.2 1234.9 L1004.8 1234.9 L1005.4 1235.3 L1006.0 1237.0 L1006.6 1235.7 L1007.2 1232.1 L1007.8 1236.2 L1008.4 1234.8 L1009.0 1237.8 L1009.6 1235.6 L1010.2 1237.1 L1010.8 1240.9 L1011.4 1235.1 L1012.0 1235.1 L1012.6 1234.7 L1013.1 1236.1 L1013.2 1233.9 L1013.8 1238.1 L1014.4 1236.3 L1015.0 1234.2 L1015.6 1235.0 L1016.2 1238.8 L1016.8 1236.4 L1017.4 1237.2 L1018.0 1238.6 L1018.6 1240.5 L1019.2 1241.6 L1019.8 1240.0 L1020.4 1238.5 L1021.0 1238.6 L1021.6 1241.6 L1022.2 1241.0 L1022.8 1237.9 L1023.4 1239.3 L1024.0 1239.1 L1024.6 1238.7 L1025.2 1237.7 L1025.8 1236.3 L1026.4 1237.7 L1027.0 1235.9 L1027.6 1241.0 L1028.2 1239.7 L1028.8 1236.6 L1029.4 1241.3 L1030.0 1240.4 L1030.2 1237.8 L1030.6 1242.1 L1031.2 1240.2 L1031.8 1242.5 L1032.4 1236.5 L1033.0 1239.7 L1033.6 1239.4 L1034.2 1239.0 L1034.8 1238.8 L1035.4 1240.4 L1036.0 1235.7 L1036.6 1236.1 L1037.2 1235.7 L1037.8 1237.1 L1038.4 1236.9 L1039.0 1238.5 L1039.6 1238.2 L1040.2 1237.7 L1040.8 1236.3 L1041.4 1236.6 L1041.7 1237.8 L1042.0 1238.6 L1042.6 1237.1 L1043.2 1236.0 L1043.8 1238.9 L1044.4 1234.6 L1045.0 1236.2 L1045.6 1236.6 L1046.2 1233.4 L1046.8 1234.8 L1047.4 1230.7 L1048.0 1234.0 L1048.6 1232.1 L1048.8 1230.7 L1049.2 1232.5 L1049.8 1229.3 L1050.4 1232.7 L1051.0 1228.7 L1051.6 1229.2 L1052.2 1229.7 L1052.8 1228.3 L1053.4 1229.2 L1053.8 1228.4 L1054.0 1229.9 L1054.6 1228.8 L1055.2 1229.5 L1055.8 1225.5 L1056.4 1231.9 L1057.0 1230.4 L1057.6 1227.6 L1058.2 1231.4 L1058.8 1232.4 L1059.4 1233.7 L1060.0 1230.6 L1060.3 1232.6 L1060.6 1231.8 L1061.2 1234.4 L1061.8 1230.8 L1062.4 1231.0 L1063.0 1228.6 L1063.6 1226.5 L1064.2 1228.0 L1064.8 1226.5 L1065.4 1226.0 L1065.9 1223.3 L1066.0 1222.1 L1066.6 1219.2 L1067.2 1218.6 L1067.8 1216.6 L1068.4 1214.4 L1069.0 1214.4 L1069.6 1212.8 L1070.2 1211.3 L1070.2 1211.7 L1070.8 1211.1 L1071.4 1211.2 L1072.0 1211.7 L1072.6 1212.3 L1073.2 1209.2 L1073.8 1207.6 L1074.4 1212.7 L1075.0 1210.3 L1075.6 1211.9 L1076.2 1206.9 L1076.8 1209.1 L1077.4 1209.5 L1078.0 1207.4 L1078.6 1208.2 L1078.8 1209.0 L1079.2 1209.6 L1079.8 1209.1 L1080.4 1204.3 L1081.0 1201.6 L1081.6 1200.9 L1082.2 1198.3 L1082.8 1195.7 L1083.1 1194.4 L1083.4 1193.0 L1084.0 1189.3 L1084.6 1185.1 L1085.2 1180.8 L1085.8 1176.9 L1086.4 1174.0 L1086.7 1173.0 L1087.0 1172.2 L1087.6 1170.8 L1088.2 1170.2 L1088.8 1169.9 L1089.4 1168.5 L1089.5 1167.8 L1090.0 1169.7 L1090.6 1171.0 L1091.2 1172.7 L1091.8 1173.9 L1092.4 1177.5 L1093.0 1180.7 L1093.1 1179.9 L1093.6 1180.0 L1094.2 1185.7 L1094.8 1189.1 L1095.4 1191.9 L1096.0 1196.3 L1096.6 1197.5 L1097.2 1200.7 L1097.4 1201.5 L1097.8 1203.7 L1098.4 1207.1 L1099.0 1206.8 L1099.6 1211.5 L1100.2 1212.7 L1100.8 1213.4 L1101.4 1214.7 L1102.0 1217.5 L1102.6 1216.2 L1103.1 1217.3 L1103.2 1216.1 L1103.8 1219.0 L1104.4 1221.0 L1105.0 1220.8 L1105.6 1221.4 L1106.2 1221.2 L1106.8 1222.2 L1107.4 1219.5 L1107.4 1222.6 L1108.0 1221.2 L1108.6 1219.8 L1109.2 1220.1 L1109.8 1219.6 L1110.4 1222.2 L1111.0 1222.1 L1111.6 1217.3 L1112.2 1220.9 L1112.8 1220.3 L1112.9 1218.4 L1113.4 1215.7 L1114.0 1216.6 L1114.6 1216.3 L1115.2 1217.6 L1115.8 1215.8 L1116.4 1212.3 L1117.0 1215.8 L1117.6 1212.8 L1118.2 1215.2 L1118.8 1211.8 L1119.4 1211.6 L1120.0 1210.5 L1120.0 1211.4 L1120.6 1211.9 L1121.2 1209.3 L1121.8 1206.6 L1122.4 1203.7 L1123.0 1199.0 L1123.6 1198.1 L1124.2 1196.4 L1124.8 1195.1 L1125.0 1196.4 L1125.4 1195.6 L1126.0 1196.9 L1126.6 1198.5 L1127.2 1199.8 L1127.8 1205.9 L1128.4 1209.5 L1128.6 1208.8 L1129.0 1209.4 L1129.6 1211.3 L1130.2 1217.8 L1130.8 1222.2 L1131.4 1223.2 L1131.5 1223.3 L1132.0 1225.7 L1132.6 1226.3 L1133.2 1225.3 L1133.8 1228.0 L1134.4 1228.5 L1135.0 1226.4 L1135.6 1228.5 L1136.2 1227.1 L1136.8 1230.0 L1137.4 1231.7 L1138.0 1229.2 L1138.6 1227.9 L1139.2 1234.1 L1139.8 1232.7 L1140.4 1234.8 L1141.0 1230.0 L1141.5 1232.9 L1141.6 1235.9 L1142.2 1235.7 L1142.8 1231.7 L1143.4 1232.2 L1144.0 1231.1 L1144.6 1232.7 L1145.2 1232.2 L1145.8 1230.0 L1146.4 1226.9 L1147.0 1230.0 L1147.6 1227.4 L1148.2 1228.7 L1148.6 1227.4 L1148.8 1230.0 L1149.4 1228.5 L1150.0 1225.0 L1150.6 1225.6 L1151.2 1227.3 L1151.8 1222.5 L1152.4 1223.5 L1153.0 1224.2 L1153.6 1223.9 L1154.2 1222.1 L1154.4 1221.0 L1154.8 1220.0 L1155.4 1222.3 L1156.0 1223.2 L1156.6 1226.3 L1157.2 1223.5 L1157.8 1227.0 L1158.4 1227.6 L1159.0 1225.6 L1159.6 1227.3 L1160.0 1228.8 L1160.2 1228.2 L1160.8 1229.1 L1161.4 1230.5 L1162.0 1228.6 L1162.6 1231.2 L1163.2 1229.7 L1163.8 1230.1 L1164.4 1232.3 L1165.0 1230.7 L1165.6 1232.4 L1166.2 1235.0 L1166.8 1232.5 L1167.4 1232.4 L1168.0 1234.1 L1168.6 1232.3 L1168.7 1233.6 L1169.2 1230.9 L1169.8 1234.4 L1170.4 1232.5 L1171.0 1232.2 L1171.6 1236.8 L1172.2 1232.4 L1172.8 1237.1 L1173.4 1235.3 L1174.0 1236.7 L1174.6 1232.6 L1175.2 1236.5 L1175.8 1237.0 L1176.4 1234.3 L1177.0 1234.3 L1177.2 1235.6 L1177.6 1234.8 L1178.2 1233.4 L1178.8 1233.0 L1179.4 1233.6 L1180.0 1232.7 L1180.6 1231.7 L1181.2 1232.7 L1181.8 1229.2 L1182.4 1229.2 L1183.0 1229.5 L1183.6 1225.7 L1184.2 1227.4 L1184.4 1226.6 L1184.8 1223.8 L1185.4 1222.8 L1186.0 1222.1 L1186.6 1219.9 L1187.2 1223.1 L1187.8 1218.3 L1188.4 1221.6 L1189.0 1222.6 L1189.6 1216.8 L1190.2 1218.6 L1190.8 1215.5 L1191.4 1220.1 L1191.5 1218.3 L1192.0 1218.3 L1192.6 1218.9 L1193.2 1219.8 L1193.8 1218.4 L1194.4 1219.2 L1195.0 1218.4 L1195.6 1219.7 L1196.2 1217.7 L1196.8 1220.1 L1197.4 1216.9 L1198.0 1219.7 L1198.6 1223.2 L1198.7 1220.9 L1199.2 1219.7 L1199.8 1222.2 L1200.4 1221.5 L1201.0 1221.5 L1201.6 1223.6 L1202.2 1226.4 L1202.8 1227.0 L1203.4 1227.3 L1204.0 1227.1 L1204.4 1228.3 L1204.6 1230.5 L1205.2 1229.8 L1205.8 1228.5 L1206.4 1227.1 L1207.0 1228.9 L1207.6 1235.6 L1208.2 1230.3 L1208.8 1232.6 L1209.4 1233.6 L1210.0 1233.4 L1210.6 1233.5 L1211.2 1232.0 L1211.6 1234.0 L1211.8 1237.5 L1212.4 1233.5 L1213.0 1236.6 L1213.6 1232.4 L1214.2 1235.1 L1214.8 1236.3 L1215.4 1237.8 L1216.0 1234.3 L1216.6 1237.4 L1217.2 1237.1 L1217.8 1235.3 L1218.4 1237.4 L1218.7 1236.1 L1219.0 1235.2 L1219.6 1236.6 L1220.2 1232.8 L1220.8 1236.3 L1221.4 1234.8 L1222.0 1233.9 L1222.6 1235.6 L1223.2 1237.6 L1223.8 1235.5 L1224.4 1238.2 L1225.0 1234.0 L1225.6 1233.6 L1226.2 1238.4 L1226.8 1236.3 L1227.4 1237.1 L1228.0 1233.9 L1228.6 1236.6 L1228.7 1235.3 L1229.2 1236.2 L1229.8 1235.0 L1230.4 1236.8 L1231.0 1233.4 L1231.6 1232.7 L1232.2 1231.5 L1232.8 1235.7 L1233.4 1232.2 L1234.0 1231.3 L1234.6 1231.5 L1235.2 1231.7 L1235.8 1230.2 L1235.9 1231.5 L1236.4 1230.3 L1237.0 1229.6 L1237.6 1229.1 L1238.2 1227.6 L1238.8 1225.7 L1239.4 1223.4 L1239.5 1223.0 L1240.0 1219.1 L1240.6 1211.1 L1241.2 1201.1 L1241.6 1194.4 L1241.8 1190.7 L1242.4 1176.7 L1243.0 1162.1 L1243.6 1152.3 L1243.7 1151.5 L1244.2 1148.5 L1244.8 1145.4 L1245.4 1143.0 L1246.0 1141.5 L1246.6 1141.0 L1246.6 1141.0 L1247.2 1141.7 L1247.8 1143.7 L1248.4 1146.6 L1249.0 1150.3 L1249.6 1154.4 L1250.2 1158.7 L1250.2 1158.7 L1250.8 1164.3 L1251.4 1171.8 L1252.0 1180.3 L1252.6 1189.0 L1253.0 1194.4 L1253.2 1197.1 L1253.8 1206.4 L1254.4 1215.4 L1255.0 1221.8 L1255.2 1223.0 L1255.6 1224.6 L1256.2 1226.7 L1256.8 1228.4 L1257.4 1229.8 L1258.0 1229.6 L1258.6 1231.5 L1258.8 1231.4 L1259.2 1232.0 L1259.8 1232.5 L1260.4 1233.1 L1261.0 1229.1 L1261.6 1232.2 L1262.2 1232.0 L1262.8 1234.8 L1263.4 1230.9 L1264.0 1232.5 L1264.5 1233.6 L1264.6 1233.1 L1265.2 1235.3 L1265.8 1232.6 L1266.4 1234.7 L1267.0 1230.2 L1267.6 1229.1 L1268.2 1233.7 L1268.8 1231.9 L1269.4 1231.4 L1270.0 1230.2 L1270.6 1230.3 L1271.2 1226.9 L1271.6 1229.2 L1271.8 1227.7 L1272.4 1229.8 L1273.0 1227.9 L1273.6 1224.0 L1274.2 1224.8 L1274.8 1228.5 L1275.4 1226.0 L1276.0 1225.1 L1276.6 1225.8 L1277.2 1224.3 L1277.8 1223.7 L1278.4 1224.4 L1279.0 1224.1 L1279.6 1226.0 L1280.2 1223.1 L1280.2 1224.0 L1280.8 1225.6 L1281.4 1224.9 L1282.0 1223.2 L1282.6 1221.0 L1283.2 1220.4 L1283.8 1219.4 L1284.4 1218.0 L1285.0 1218.8 L1285.6 1217.6 L1285.9 1219.5 L1286.2 1219.6 L1286.8 1218.2 L1287.4 1216.1 L1288.0 1219.8 L1288.6 1219.8 L1289.2 1219.4 L1289.8 1220.1 L1290.4 1220.2 L1291.0 1224.3 L1291.6 1224.3 L1291.7 1225.3 L1292.2 1225.1 L1292.8 1225.9 L1293.4 1228.8 L1294.0 1228.3 L1294.6 1229.5 L1295.2 1229.9 L1295.8 1230.5 L1296.4 1233.8 L1297.0 1233.9 L1297.4 1233.6 L1297.6 1232.7 L1298.2 1233.5 L1298.8 1232.3 L1299.4 1235.8 L1300.0 1232.1 L1300.6 1235.6 L1301.2 1236.7 L1301.8 1237.4 L1302.4 1233.6 L1303.0 1236.5 L1303.1 1234.9 L1303.6 1234.2 L1304.2 1233.0 L1304.8 1235.2 L1305.4 1234.8 L1306.0 1231.2 L1306.6 1230.0 L1307.2 1229.6 L1307.8 1231.8 L1308.4 1230.0 L1308.8 1228.5 L1309.0 1226.6 L1309.6 1228.3 L1310.2 1231.1 L1310.8 1232.9 L1311.4 1231.4 L1312.0 1232.0 L1312.6 1233.3 L1313.2 1232.6 L1313.8 1236.6 L1314.4 1234.6 L1314.5 1236.3 L1315.0 1234.0 L1315.6 1233.9 L1316.2 1236.6 L1316.8 1234.9 L1317.4 1237.5 L1318.0 1236.3 L1318.6 1234.4 L1319.2 1237.4 L1319.8 1237.8 L1320.4 1233.3 L1321.0 1239.5 L1321.6 1237.3 L1322.2 1237.8 L1322.8 1233.4 L1323.4 1235.4 L1324.0 1236.0 L1324.6 1238.4 L1325.2 1234.2 L1325.8 1235.1 L1326.0 1235.6 L1326.4 1236.2 L1327.0 1237.2 L1327.6 1233.8 L1328.2 1235.5 L1328.8 1237.3 L1329.4 1239.1 L1330.0 1237.5 L1330.6 1235.8 L1331.2 1234.3 L1331.8 1234.6 L1332.4 1235.0 L1333.0 1236.3 L1333.6 1235.9 L1334.2 1238.7 L1334.3 1236.0 L1334.8 1234.1 L1335.4 1238.3 L1336.0 1237.3 L1336.6 1235.8 L1337.2 1234.3 L1337.8 1232.3 L1338.4 1233.6 L1339.0 1236.7 L1339.6 1233.8 L1340.2 1232.8 L1340.8 1235.2 L1341.4 1235.1 L1342.0 1235.6 L1342.6 1235.6 L1343.2 1236.7 L1343.8 1232.8 L1344.4 1235.7 L1345.0 1232.2 L1345.6 1234.9 L1345.7 1233.8 L1346.2 1234.0 L1346.8 1234.9 L1347.4 1233.0 L1348.0 1234.6 L1348.6 1233.9 L1349.2 1232.4 L1349.8 1230.9 L1350.4 1230.2 L1351.0 1230.3 L1351.6 1230.5 L1352.2 1230.5 L1352.8 1233.9 L1353.4 1231.0 L1354.0 1231.1 L1354.6 1228.2 L1355.2 1228.4 L1355.8 1229.0 L1355.8 1229.6 L1356.4 1227.8 L1357.0 1232.3 L1357.6 1228.9 L1358.2 1231.9 L1358.8 1226.8 L1359.4 1230.7 L1360.0 1231.6 L1360.6 1231.8 L1361.2 1232.8 L1361.8 1232.7 L1362.4 1232.8 L1363.0 1229.8 L1363.6 1232.0 L1364.2 1229.8 L1364.8 1234.6 L1365.4 1234.2 L1365.8 1233.6 L1366.0 1232.3 L1366.6 1232.7 L1367.2 1236.6 L1367.8 1236.3 L1368.4 1233.1 L1369.0 1235.2 L1369.6 1230.2 L1370.2 1229.4 L1370.8 1231.6 L1371.4 1230.7 L1372.0 1231.1 L1372.6 1232.1 L1373.2 1235.3 L1373.8 1230.5 L1374.3 1231.6 L1374.4 1232.1 L1375.0 1231.6 L1375.6 1233.2 L1376.2 1234.7 L1376.8 1229.9 L1377.4 1232.4 L1378.0 1231.9 L1378.6 1233.2 L1379.2 1230.3 L1379.8 1230.2 L1380.4 1229.7 L1381.0 1234.5 L1381.6 1234.2 L1382.2 1234.2 L1382.8 1230.7 L1383.4 1234.0 L1384.0 1233.5 L1384.6 1232.6 L1385.2 1233.6 L1385.8 1236.3 L1385.8 1235.5 L1386.4 1235.3 L1387.0 1236.2 L1387.6 1234.5 L1388.2 1235.7 L1388.8 1235.7 L1389.4 1236.6 L1390.0 1235.7 L1390.6 1235.7 L1391.2 1235.7 L1391.8 1235.0 L1392.4 1239.7 L1393.0 1237.0 L1393.6 1236.9 L1394.2 1239.9 L1394.8 1238.6 L1395.4 1233.9 L1396.0 1237.6 L1396.6 1237.9 L1397.2 1239.6 L1397.8 1238.7 L1398.4 1237.8 L1399.0 1234.7 L1399.6 1235.2 L1400.1 1236.7 L1400.2 1237.4 L1400.8 1234.9 L1401.4 1236.0 L1402.0 1235.9 L1402.6 1236.6 L1403.2 1237.0 L1403.8 1236.0 L1404.4 1234.4 L1405.0 1238.4 L1405.6 1238.9 L1406.2 1236.0 L1406.8 1237.8 L1407.4 1236.8 L1408.0 1237.0 L1408.6 1236.6 L1409.2 1234.5 L1409.8 1236.5 L1410.4 1237.1 L1411.0 1233.9 L1411.5 1236.2 L1411.6 1238.6 L1412.2 1236.9 L1412.8 1236.6 L1413.4 1234.6 L1414.0 1232.5 L1414.6 1231.4 L1415.2 1230.2 L1415.8 1230.3 L1415.8 1230.2 L1416.4 1229.7 L1417.0 1225.0 L1417.6 1228.0 L1418.2 1226.1 L1418.8 1221.9 L1419.4 1221.5 L1420.0 1220.8 L1420.1 1220.3 L1420.6 1220.2 L1421.2 1221.1 L1421.8 1221.5 L1422.4 1224.1 L1423.0 1225.5 L1423.6 1227.4 L1424.2 1227.4 L1424.4 1228.7 L1424.8 1229.5 L1425.4 1231.2 L1426.0 1230.5 L1426.6 1233.3 L1427.2 1235.1 L1427.8 1235.6 L1428.4 1235.4 L1429.0 1236.0 L1429.6 1236.8 L1430.1 1237.5 L1430.2 1239.1 L1430.8 1237.2 L1431.4 1236.6 L1432.0 1238.4 L1432.6 1238.2 L1433.2 1236.5 L1433.8 1236.9 L1434.4 1238.1 L1435.0 1239.4 L1435.6 1236.5 L1436.2 1236.8 L1436.8 1239.3 L1437.4 1236.6 L1438.0 1238.8 L1438.6 1239.3 L1439.2 1238.6 L1439.8 1237.1 L1440.4 1238.7 L1441.0 1238.3 L1441.6 1239.3 L1441.6 1238.4 L1442.2 1240.6 L1442.8 1236.1 L1443.4 1238.5 L1444.0 1238.8 L1444.6 1240.3 L1445.2 1237.7 L1445.8 1239.5 L1446.4 1237.6 L1447.0 1239.7 L1447.6 1241.2 L1448.2 1237.7 L1448.8 1238.9 L1449.4 1236.6 L1450.0 1239.6 L1450.6 1239.8 L1451.2 1237.8 L1451.8 1236.3 L1452.4 1237.9 L1453.0 1238.6 L1453.0 1237.7 L1453.6 1237.8 L1454.2 1234.0 L1454.8 1234.1 L1455.4 1235.1 L1456.0 1230.5 L1456.6 1231.6 L1457.2 1230.9 L1457.8 1228.3 L1458.4 1227.6 L1458.7 1225.8 L1459.0 1224.1 L1459.6 1224.6 L1460.2 1223.8 L1460.8 1223.2 L1461.4 1223.6 L1462.0 1221.6 L1462.6 1221.5 L1463.2 1221.3 L1463.8 1220.2 L1464.4 1222.8 L1465.0 1220.3 L1465.6 1219.6 L1465.9 1219.3 L1466.2 1218.4 L1466.8 1221.8 L1467.4 1220.2 L1468.0 1218.7 L1468.6 1220.1 L1469.2 1221.4 L1469.8 1221.6 L1470.4 1224.3 L1471.0 1222.5 L1471.6 1225.1 L1471.6 1224.5 L1472.2 1223.9 L1472.8 1226.2 L1473.4 1227.0 L1474.0 1228.8 L1474.6 1228.8 L1475.2 1230.6 L1475.8 1229.4 L1476.4 1230.9 L1477.0 1233.6 L1477.3 1233.3 L1477.6 1233.2 L1478.2 1232.7 L1478.8 1235.8 L1479.4 1231.2 L1480.0 1233.6 L1480.6 1236.3 L1481.2 1236.5 L1481.8 1234.1 L1482.4 1232.8 L1483.0 1238.2 L1483.0 1236.0 L1483.6 1234.4 L1484.2 1235.9 L1484.8 1237.1 L1485.4 1232.0 L1486.0 1237.0 L1486.6 1236.2 L1487.2 1231.4 L1487.8 1235.6 L1488.4 1231.2 L1489.0 1235.4 L1489.6 1233.8 L1490.2 1235.2 L1490.8 1231.6 L1491.4 1231.8 L1491.6 1231.9 L1492.0 1230.5 L1492.6 1229.4 L1493.2 1228.6 L1493.8 1227.5 L1494.4 1225.0 L1495.0 1225.3 L1495.6 1224.1 L1495.9 1223.0 L1496.2 1224.4 L1496.8 1221.0 L1497.4 1221.7 L1498.0 1218.7 L1498.6 1219.3 L1499.2 1215.9 L1499.5 1218.1 L1499.8 1217.9 L1500.4 1218.0 L1501.0 1218.6 L1501.6 1219.9 L1502.2 1220.6 L1502.8 1220.1 L1503.1 1222.8 L1503.4 1222.9 L1504.0 1223.9 L1504.6 1224.5 L1505.2 1226.7 L1505.8 1228.9 L1506.4 1229.0 L1507.0 1229.8 L1507.6 1232.9 L1508.2 1233.4 L1508.8 1234.0 L1508.8 1233.4 L1509.4 1233.2 L1510.0 1234.1 L1510.6 1236.5 L1511.2 1234.5 L1511.8 1235.7 L1512.4 1237.0 L1513.0 1237.5 L1513.6 1236.9 L1514.2 1239.3 L1514.8 1237.8 L1515.4 1239.5 L1516.0 1240.3 L1516.6 1239.8 L1517.2 1240.0 L1517.4 1238.2 L1517.8 1236.7 L1518.4 1237.6 L1519.0 1238.9 L1519.6 1240.1 L1520.2 1235.2 L1520.8 1237.1 L1521.4 1234.6 L1522.0 1234.2 L1522.6 1234.4 L1523.1 1234.8 L1523.2 1234.8 L1523.8 1235.9 L1524.4 1232.0 L1525.0 1234.4 L1525.6 1234.0 L1526.2 1232.2 L1526.8 1232.4 L1527.4 1230.5 L1528.0 1229.4 L1528.6 1230.4 L1528.8 1230.7 L1529.2 1234.5 L1529.8 1230.6 L1530.4 1234.4 L1531.0 1232.7 L1531.6 1233.6 L1532.2 1235.0 L1532.8 1233.2 L1533.4 1236.5 L1534.0 1236.2 L1534.5 1235.2 L1534.6 1236.9 L1535.2 1237.1 L1535.8 1237.2 L1536.4 1239.3 L1537.0 1236.3 L1537.6 1238.0 L1538.2 1238.6 L1538.8 1236.3 L1539.4 1239.8 L1540.0 1235.8 L1540.6 1236.2 L1541.2 1239.2 L1541.8 1236.8 L1542.4 1238.4 L1543.0 1236.1 L1543.6 1238.9 L1544.2 1237.0 L1544.5 1239.0 L1544.8 1236.3 L1545.4 1239.0 L1546.0 1237.7 L1546.6 1237.4 L1547.2 1236.4 L1547.8 1235.7 L1548.4 1233.1 L1549.0 1231.1 L1549.6 1232.6 L1550.2 1230.7 L1550.3 1231.4 L1550.8 1231.4 L1551.4 1227.7 L1552.0 1228.0 L1552.6 1227.1 L1553.2 1225.5 L1553.8 1226.2 L1554.4 1224.9 L1555.0 1223.7 L1555.5 1224.2 L1555.6 1225.4 L1556.2 1223.5 L1556.8 1225.6 L1557.4 1225.6 L1558.0 1222.1 L1558.6 1223.6 L1559.2 1225.6 L1559.8 1226.5 L1560.0 1226.4 L1560.4 1227.5 L1561.0 1228.3 L1561.6 1226.6 L1562.2 1227.4 L1562.8 1229.6 L1563.4 1228.1 L1564.0 1230.8 L1564.6 1227.5 L1564.7 1229.5 L1565.2 1229.0 L1565.8 1226.5 L1566.4 1229.0 L1567.0 1227.4 L1567.6 1226.2 L1568.2 1224.1 L1568.5 1224.8 L1568.8 1226.4 L1569.4 1223.0 L1570.0 1219.7 L1570.6 1221.1 L1571.2 1219.9 L1571.8 1221.1 L1572.4 1220.4 L1572.7 1220.6 L1573.0 1219.7 L1573.6 1222.9 L1574.2 1219.3 L1574.8 1225.2 L1575.4 1221.9 L1576.0 1221.7 L1576.6 1225.5 L1577.2 1225.9 L1577.8 1224.2 L1578.4 1227.8 L1579.0 1224.4 L1579.6 1226.4 L1579.7 1228.5 L1580.2 1228.1 L1580.8 1227.0 L1581.4 1230.5 L1582.0 1231.7 L1582.6 1230.8 L1583.2 1228.6 L1583.8 1231.5 L1584.4 1233.3 L1585.0 1234.4 L1585.6 1236.6 L1586.2 1233.7 L1586.8 1233.7 L1587.4 1234.7 L1588.0 1236.9 L1588.0 1234.6 L1588.6 1237.3 L1589.2 1231.9 L1589.8 1236.8 L1590.4 1234.7 L1591.0 1236.6 L1591.6 1237.2 L1592.2 1234.4 L1592.8 1236.2 L1593.4 1236.9 L1594.0 1237.6 L1594.6 1235.3 L1595.2 1235.3 L1595.8 1234.0 L1596.4 1240.6 L1597.0 1236.9 L1597.6 1236.9 L1598.2 1235.0 L1598.8 1238.9 L1599.4 1236.6 L1600.0 1239.8 L1600.6 1238.9 L1601.2 1237.6 L1601.8 1238.8 L1602.0 1237.1 L1602.4 1237.1 L1603.0 1236.7 L1603.6 1235.6 L1604.2 1237.6 L1604.8 1237.4 L1605.4 1239.9 L1606.0 1234.1 L1606.6 1236.5 L1607.2 1236.1 L1607.8 1236.9 L1608.4 1238.3 L1609.0 1238.2 L1609.0 1237.6 L1609.6 1236.9 L1610.2 1238.5 L1610.8 1238.3 L1611.4 1235.0 L1612.0 1237.6 L1612.6 1236.0 L1613.2 1236.5 L1613.8 1238.8 L1614.4 1238.9 L1615.0 1239.2 L1615.6 1237.8 L1616.2 1239.1 L1616.8 1238.1 L1617.4 1240.3 L1618.0 1240.9 L1618.6 1242.7 L1619.2 1242.0 L1619.8 1238.7 L1619.8 1239.8 L1620.4 1238.5 L1621.0 1240.3 L1621.6 1242.8 L1622.2 1240.6 L1622.8 1235.8 L1623.4 1237.0 L1624.0 1236.6 L1624.6 1239.2 L1625.2 1238.2 L1625.8 1238.4 L1626.4 1240.5 L1626.8 1237.2 L1627.0 1236.2 L1627.6 1240.5 L1628.2 1237.8 L1628.8 1235.9 L1629.4 1233.8 L1630.0 1234.4 L1630.6 1233.2 L1631.2 1236.7 L1631.8 1236.5 L1632.4 1237.9 L1633.0 1236.0 L1633.6 1235.0 L1634.2 1234.8 L1634.8 1238.9 L1635.4 1233.0 L1636.0 1236.0 L1636.6 1235.7 L1637.2 1236.6 L1637.8 1234.9 L1638.0 1235.7" fill="none" stroke="#ff7f0e" stroke-width="6.6" stroke-linejoin="round" stroke-linecap="butt"/>
<rect x="192.2" y="1257" width="8.4" height="10" fill="#000"/><rect x="303.1" y="1244.5" width="8.4" height="22" fill="#000"/><rect x="414.0" y="1257" width="8.4" height="10" fill="#000"/><rect x="524.9" y="1244.5" width="8.4" height="22" fill="#000"/><rect x="635.8" y="1257" width="8.4" height="10" fill="#000"/><rect x="746.7" y="1244.5" width="8.4" height="22" fill="#000"/><rect x="857.6" y="1257" width="8.4" height="10" fill="#000"/><rect x="968.5" y="1244.5" width="8.4" height="22" fill="#000"/><rect x="1079.4" y="1257" width="8.4" height="10" fill="#000"/><rect x="1190.3" y="1244.5" width="8.4" height="22" fill="#000"/><rect x="1301.2" y="1257" width="8.4" height="10" fill="#000"/><rect x="1412.1" y="1244.5" width="8.4" height="22" fill="#000"/><rect x="1523.0" y="1257" width="8.4" height="10" fill="#000"/>
<rect x="85.5" y="18.8" width="1552.4" height="1250.3" fill="none" stroke="#000" stroke-width="8.9"/>
<rect x="848.8" y="52.3" width="765" height="142.5" fill="#fff" stroke="#444" stroke-width="1.4"/>
<line x1="898" y1="90" x2="1017" y2="90" stroke="#ff7f0e" stroke-width="6.4" stroke-linecap="round"/>
<line x1="898" y1="157.3" x2="1017" y2="157.3" stroke="#ff7f0e" stroke-width="6.4" stroke-linecap="round"/>
<text class="lg" transform="translate(858.3,108.6) scale(0.96,1)">K</text>
<text class="lg" x="1032" y="108.6">Kaolinite</text>
<text class="lg" x="1296" y="108.6">PDF#80-0885</text>
<text class="lg" transform="translate(863.3,176) scale(0.96,1)">B</text>
<text class="lg" transform="translate(1033.2,176) scale(0.989,1)">Boehmite</text>
<text class="lg" x="1302" y="176">PDF#74-1895</text>
<text class="pk" transform="translate(127.5,121.9) scale(0.96,1)" fill="#0000ff">K</text>
<text class="pk" transform="translate(169.4,1121.9) scale(0.96,1)" fill="#ff0000">B</text>
<text class="pk" transform="translate(294.8,890.8) scale(0.96,1)" fill="#0000ff">K</text>
<text class="pk" transform="translate(317.4,948.7) scale(0.96,1)" fill="#0000ff">K</text>
<text class="pk" transform="translate(276.3,1012.3) scale(0.96,1)" fill="#0000ff">K</text>
<text class="pk" transform="translate(358.3,1057.4) scale(0.96,1)" fill="#0000ff">K</text>
<text class="pk" transform="translate(382.3,1123.7) scale(0.96,1)" fill="#0000ff">K</text>
<text class="pk" transform="translate(433.8,1120.1) scale(0.96,1)" fill="#0000ff">K</text>
<text class="pk" transform="translate(474.2,1156.6) scale(0.96,1)" fill="#ff0000">B</text>
<text class="pk" transform="translate(493.6,1191.0) scale(0.96,1)" fill="#0000ff">K</text>
<text class="pk" transform="translate(567.4,1188.7) scale(0.96,1)" fill="#0000ff">K</text>
<text class="pk" transform="translate(399.9,421.5) scale(0.96,1)" fill="#0000ff">K</text>
<text class="pk" transform="translate(695.9,942.2) scale(0.96,1)" fill="#ff0000">B</text>
<text class="pk" transform="translate(695.3,992.3) scale(0.96,1)" fill="#0000ff">K</text>
<text class="pk" transform="translate(643.8,1038.7) scale(0.96,1)" fill="#0000ff">K</text>
<text class="pk" transform="translate(614.8,1068.1) scale(0.96,1)" fill="#0000ff">K</text>
<text class="pk" transform="translate(724.3,1075.2) scale(0.96,1)" fill="#0000ff">K</text>
<text class="pk" transform="translate(673.4,1143.7) scale(0.96,1)" fill="#0000ff">K</text>
<text class="pk" transform="translate(764.6,1198.0) scale(0.96,1)" fill="#0000ff">K</text>
<text class="pk" transform="translate(795.0,1211.6) scale(0.96,1)" fill="#0000ff">K</text>
<text class="pk" transform="translate(853.4,1163.0) scale(0.96,1)" fill="#0000ff">K</text>
<text class="pk" transform="translate(889.2,1198.0) scale(0.96,1)" fill="#0000ff">K</text>
<text class="pk" transform="translate(914.2,1208.7) scale(0.96,1)" fill="#0000ff">K</text>
<text class="pk" transform="translate(949.6,1209.4) scale(0.96,1)" fill="#0000ff">K</text>
<text class="pk" transform="translate(987.5,1203.7) scale(0.96,1)" fill="#0000ff">K</text>
<text class="pk" transform="translate(1068.4,1098.4) scale(0.96,1)" fill="#ff0000">B</text>
<text class="pk" transform="translate(1068.2,1146.8) scale(0.96,1)" fill="#0000ff">K</text>
<text class="pk" transform="translate(1107.8,1185.2) scale(0.96,1)" fill="#0000ff">K</text>
<text class="pk" transform="translate(1144.5,1193.5) scale(0.96,1)" fill="#0000ff">K</text>
<text class="pk" transform="translate(1182.5,1197.7) scale(0.96,1)" fill="#0000ff">K</text>
<text class="pk" transform="translate(1231.7,1117.6) scale(0.96,1)" fill="#0000ff">K</text>
<text class="pk" transform="translate(1272.6,1197.7) scale(0.96,1)" fill="#0000ff">K</text>
<text class="pk" transform="translate(1402.4,1213.0) scale(0.96,1)" fill="#0000ff">K</text>
<text class="pk" transform="translate(1446.2,1208.3) scale(0.96,1)" fill="#0000ff">K</text>
<text class="pk" transform="translate(1484.9,1209.1) scale(0.96,1)" fill="#0000ff">K</text>
<text class="pk" transform="translate(1550.8,1208.3) scale(0.96,1)" fill="#0000ff">K</text>
<text class="tk" x="86.0" y="1326.4">10</text>
<text class="tk" x="307.8" y="1326.4">20</text>
<text class="tk" x="529.6" y="1326.4">30</text>
<text class="tk" x="751.4" y="1326.4">40</text>
<text class="tk" x="973.2" y="1326.4">50</text>
<text class="tk" x="1195.0" y="1326.4">60</text>
<text class="tk" x="1416.8" y="1326.4">70</text>
<text class="tk" x="1638.6" y="1326.4">80</text>
<g class="ax"><text style="font-size:63px" x="712.5" y="1400">2</text><text style="font-size:63px" transform="translate(745.4,1400) scale(1.07,1)">θ</text><text style="font-size:62.5px" transform="translate(779.7,1400) scale(1.052,1)" xml:space="preserve"> (degree)</text></g>
<text class="ax" style="font-size:64.3px" transform="translate(62.8,916.3) rotate(-90) scale(1.035,1)">Intensity(a.u.)</text>
</svg></body></html>
